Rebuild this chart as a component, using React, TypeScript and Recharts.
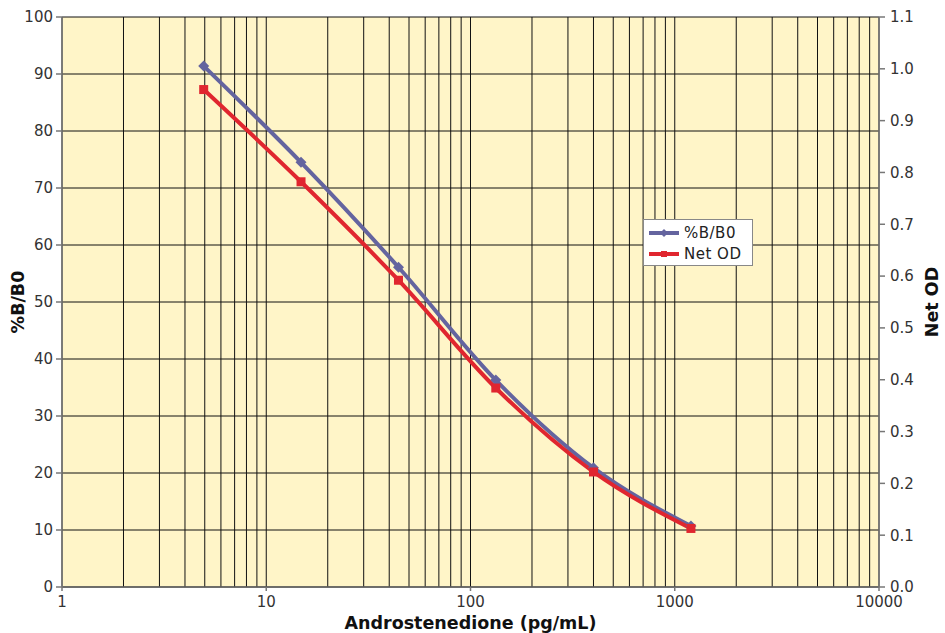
import { LineChart, Line, XAxis, YAxis, CartesianGrid, Legend } from "recharts";

const concentrations = [4.94, 14.8, 44.4, 133, 400, 1200];
const percentBB0 = [91.4, 74.5, 56.1, 36.3, 20.9, 10.7];
const netOD = [0.96, 0.782, 0.592, 0.384, 0.222, 0.113];

const xGrid = [
  1, 2, 3, 4, 5, 6, 7, 8, 9,
  10, 20, 30, 40, 50, 60, 70, 80, 90,
  100, 200, 300, 400, 500, 600, 700, 800, 900,
  1000, 2000, 3000, 4000, 5000, 6000, 7000, 8000, 9000,
  10000,
];
const xLabels = [1, 10, 100, 1000, 10000];
const leftTicks = [0, 10, 20, 30, 40, 50, 60, 70, 80, 90, 100];
const rightTicks = [0, 0.1, 0.2, 0.3, 0.4, 0.5, 0.6, 0.7, 0.8, 0.9, 1.0, 1.1];

const data = concentrations.map((c, i) => ({ conc: c, pct: percentBB0[i], od: netOD[i] }));

const BLUE = "#64649f";
const RED = "#e0262f";
const FONT = "DejaVu Sans, sans-serif";
const titleStyle = { fontFamily: FONT, fontSize: 17.5, fontWeight: "bold" as const, fill: "#111" };

function XTick(props: any) {
  const { x, y, payload } = props;
  if (!xLabels.includes(payload.value)) return null;
  return (
    <g>
      <line x1={x} y1={y} x2={x} y2={y + 4} stroke="#777" strokeWidth={1.5} />
      <text x={x} y={y + 15} textAnchor="middle" dominantBaseline="central" fontFamily={FONT} fontSize={15} fill="#333">
        {payload.value}
      </text>
    </g>
  );
}

function Diamond(props: any) {
  const { cx, cy } = props;
  if (cx == null || cy == null) return null;
  return <path d={`M${cx} ${cy - 5.5}L${cx + 5.5} ${cy}L${cx} ${cy + 5.5}L${cx - 5.5} ${cy}Z`} fill={BLUE} />;
}

function Square(props: any) {
  const { cx, cy } = props;
  if (cx == null || cy == null) return null;
  return <rect x={cx - 4.5} y={cy - 4.5} width={9} height={9} fill={RED} />;
}

function VTitle(props: any & { text: string; dx: number }) {
  const { viewBox, text, dx } = props;
  const cx = viewBox.x + dx;
  const cy = viewBox.y + viewBox.height / 2;
  return (
    <text x={cx} y={cy} transform={`rotate(-90 ${cx} ${cy})`} textAnchor="middle" dominantBaseline="central" style={titleStyle}>
      {text}
    </text>
  );
}

function HTitle(props: any & { text: string; dy: number }) {
  const { viewBox, text, dy } = props;
  return (
    <text x={viewBox.x + viewBox.width / 2} y={viewBox.y + dy} textAnchor="middle" dominantBaseline="central" style={titleStyle}>
      {text}
    </text>
  );
}

function LegendBox() {
  const rows = [
    { name: "%B/B0", color: BLUE, diamond: true },
    { name: "Net OD", color: RED, diamond: false },
  ];
  return (
    <div style={{ width: 110, height: 47, background: "#fff", border: "1px solid #888", boxSizing: "border-box", paddingTop: 2 }}>
      {rows.map((r) => (
        <div key={r.name} style={{ display: "flex", alignItems: "center", height: 21 }}>
          <svg width={40} height={10}>
            <line x1={5} y1={5} x2={35} y2={5} stroke={r.color} strokeWidth={4} />
            {r.diamond ? (
              <path d="M20 1L24 5L20 9L16 5Z" fill={r.color} />
            ) : (
              <rect x={17} y={2} width={6} height={6} fill={r.color} />
            )}
          </svg>
          <span style={{ fontFamily: FONT, fontSize: 15, color: "#222", letterSpacing: 0.5 }}>{r.name}</span>
        </div>
      ))}
    </div>
  );
}

export default function App() {
  return (
    <div style={{ position: "absolute", left: 0, top: 0, width: 945, height: 633, background: "#fff" }}>
      <LineChart width={945} height={633} data={data} margin={{ top: 17, right: 0, bottom: 0, left: 0 }}>
        <CartesianGrid yAxisId="left" stroke="#111" strokeWidth={1} fill="#fff5c8" fillOpacity={1} />
        <XAxis
          dataKey="conc"
          type="number"
          scale="log"
          domain={[1, 10000]}
          ticks={xGrid}
          interval={0}
          allowDataOverflow
          height={46}
          tickLine={false}
          tickSize={0}
          tickMargin={0}
          tick={<XTick />}
          axisLine={{ stroke: "#666", strokeWidth: 1.5 }}
          label={<HTitle text="Androstenedione (pg/mL)" dy={35.5} />}
        />
        <YAxis
          yAxisId="left"
          domain={[0, 100]}
          ticks={leftTicks}
          interval={0}
          width={62}
          tickSize={6}
          tickMargin={3}
          tickLine={{ stroke: "#777", strokeWidth: 1.5 }}
          axisLine={{ stroke: "#777", strokeWidth: 1.5 }}
          tick={{ fontFamily: FONT, fontSize: 15, fill: "#333" }}
          label={<VTitle text="%B/B0" dx={18} />}
        />
        <YAxis
          yAxisId="right"
          orientation="right"
          domain={[0, 1.1]}
          ticks={rightTicks}
          interval={0}
          width={66}
          tickSize={6}
          tickMargin={5}
          tickFormatter={(v: number) => v.toFixed(1)}
          tickLine={{ stroke: "#777", strokeWidth: 1.5 }}
          axisLine={{ stroke: "#777", strokeWidth: 1.5 }}
          tick={{ fontFamily: FONT, fontSize: 15, fill: "#333" }}
          label={<VTitle text="Net OD" dx={53} />}
        />
        <Legend
          layout="vertical"
          align="center"
          verticalAlign="middle"
          wrapperStyle={{ left: 643, top: 219, width: 110 }}
          content={() => <LegendBox />}
        />
        <Line
          yAxisId="left"
          type="monotone"
          dataKey="pct"
          name="%B/B0"
          stroke={BLUE}
          strokeWidth={4}
          dot={<Diamond />}
          activeDot={false}
          isAnimationActive={false}
        />
        <Line
          yAxisId="right"
          type="monotone"
          dataKey="od"
          name="Net OD"
          stroke={RED}
          strokeWidth={4}
          dot={<Square />}
          activeDot={false}
          isAnimationActive={false}
        />
      </LineChart>
    </div>
  );
}
